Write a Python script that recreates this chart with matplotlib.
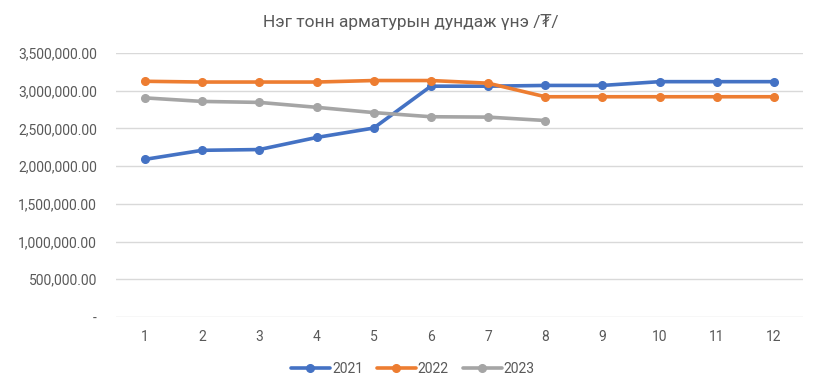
import numpy as np
import matplotlib.pyplot as plt
from matplotlib.ticker import FuncFormatter

plt.rcParams['font.family'] = ['Roboto', 'DejaVu Sans']

# =============================================================================
# data
# =============================================================================

months = [1, 2, 3, 4, 5, 6, 7, 8, 9, 10, 11, 12]
price_2021 = [2090000, 2210000, 2220000, 2380000, 2505000, 3060000,
              3060000, 3070000, 3070000, 3120000, 3120000, 3120000]
price_2022 = [3125000, 3115000, 3115000, 3115000, 3135000, 3135000,
              3100000, 2920000, 2920000, 2920000, 2920000, 2920000]
price_2023 = [2905000, 2858000, 2845000, 2780000, 2710000, 2655000,
              2650000, 2605000]
series_names = ['2021', '2022', '2023']
colors = ['#4472C4', '#ED7D31', '#A5A5A5']
title = 'Нэг тонн арматурын дундаж үнэ /₮/'


def money(v, pos):
    if v == 0:
        return '-'
    return f'{v:,.2f}'


# =============================================================================
# plot
# =============================================================================

fig = plt.figure(figsize=(8.22, 3.92), dpi=100)
ax = fig.add_axes([0.1416, 0.1913, 0.8348, 0.6735])

x = np.arange(len(months))
for vals, name, c in zip([price_2021, price_2022, price_2023], series_names, colors):
    ax.plot(x[:len(vals)], vals, color=c, lw=2.6, marker='o', ms=5.5,
            label=name, solid_capstyle='round')

ax.set_xlim(-0.5, len(months) - 0.5)
ax.set_ylim(0, 3500000)
ax.set_yticks(np.arange(0, 3500001, 500000))
ax.yaxis.set_major_formatter(FuncFormatter(money))
ax.set_xticks(x)
ax.set_xticklabels([str(m) for m in months])

ax.grid(axis='y', color='#D9D9D9', lw=1)
ax.set_axisbelow(True)
for s in ax.spines.values():
    s.set_visible(False)
ax.tick_params(length=0, labelsize=10, colors='#595959', pad=9)
ax.tick_params(axis='y', pad=14)

fig.text(0.5, 0.943, title, ha='center', va='center', fontsize=12.5, color='#595959')

ax.legend(loc='center', bbox_to_anchor=(0.432, -0.197), ncol=3, frameon=False,
          fontsize=10, labelcolor='#595959', handlelength=2.8,
          columnspacing=1.0, handletextpad=0.15)

fig.savefig('out.png', dpi=100)
